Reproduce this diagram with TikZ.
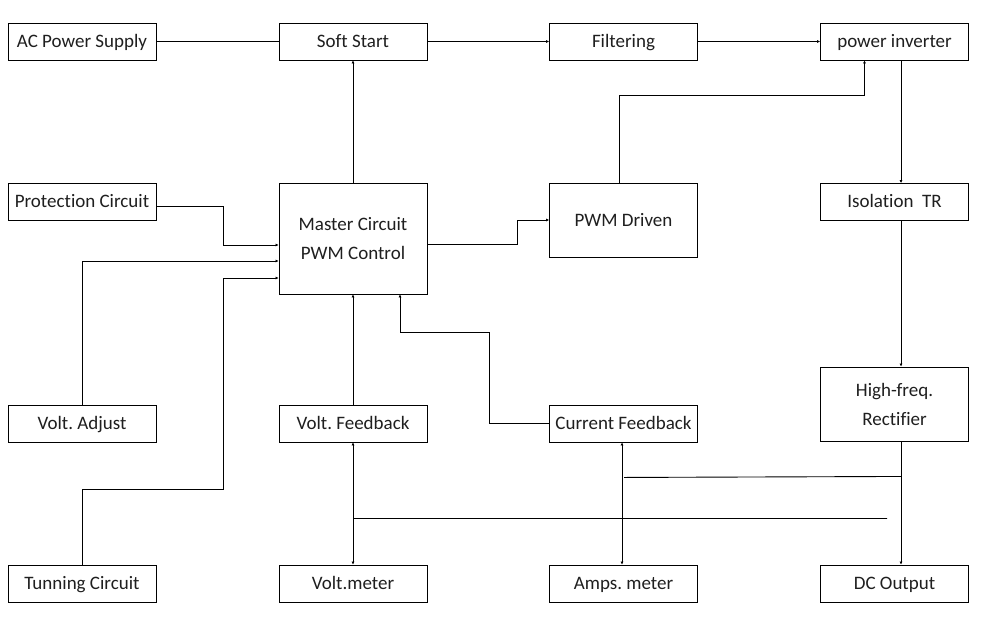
\documentclass[tikz,border=0pt]{standalone}
\usepackage{fontspec}
\setmainfont{Carlito}[Ligatures={NoCommon,NoRare,NoContextual}]
\frenchspacing
\usetikzlibrary{calc,arrows.meta}
\begin{document}
\begin{tikzpicture}[x=1pt,y=-1pt,
  box/.style={draw=black,line width=0.9pt,minimum width=148pt,minimum height=37pt,inner sep=0pt,align=center,text height=14pt,text depth=3pt,font=\fontsize{19}{29}\selectfont,text=black!88},
  tall/.style={box,minimum height=74pt,text height=,text depth=},
  big/.style={box,minimum height=111pt,text height=,text depth=},
  wire/.style={draw=black,line width=0.9pt},
  arr/.style={wire,-{Latex[length=3pt,width=3pt]}},
  arrb/.style={wire,{Latex[length=3pt,width=3pt]}-{Latex[length=3pt,width=3pt]}}]
\useasboundingbox[fill=white] (0,0) rectangle (992,635);
\node[box] (ac) at (82,41.5) {AC Power Supply};
\node[box] (soft) at (353,41.5) {Soft Start};
\node[box] (filt) at (623.5,41.5) {Filtering};
\node[box] (inv) at (894.5,41.5) {power inverter};
\node[box] (prot) at (82,202) {Protection Circuit};
\node[big] (master) at (353,238.5) {Master Circuit\\PWM Control};
\node[tall] (pwm) at (623.5,220) {PWM Driven};
\node[box] (iso) at (894.5,202) {Isolation\ \ TR};
\node[tall] (rect) at (894.5,404) {High-freq.\\Rectifier};
\node[box] (vadj) at (82,423.5) {Volt. Adjust};
\node[box] (vfb) at (353,423.5) {Volt. Feedback};
\node[box] (cfb) at (623.5,423.5) {Current Feedback};
\node[box] (tun) at (82,583.5) {Tunning Circuit};
\node[box] (vm) at (353,583.5) {Volt.meter};
\node[box] (am) at (623.5,583.5) {Amps. meter};
\node[box] (dc) at (894.5,583.5) {DC Output};
% top row
\draw[wire] (ac.east) -- (soft.west);
\draw[arr] (soft.east) -- (filt.west);
\draw[arr] (filt.east) -- (inv.west);
\draw[arr] (master.north) -- (soft.south);
% inputs to master
\draw[arr] ($(prot.east)+(0,4)$) -- ++(67,0) |- ($(master.west)+(0,6.5)$);
\draw[arr] (vadj.north) |- ($(master.west)+(0,22.5)$);
\draw[arr] (tun.north) -- ++(0,-75) -- ++(141,0) |- ($(master.west)+(0,39.5)$);
% master to pwm to inverter
\draw[arr] ($(master.east)+(0,5.5)$) -- ++(90,0) |- (pwm.west);
\draw[arr] ($(pwm.north)+(-4.5,0)$) -- ++(0,-87) -| ($(inv.south)+(-30,0)$);
% power chain
\draw[arr] ($(inv.south)+(6.5,0)$) -- ($(iso.north)+(6.5,0)$);
\draw[arr] ($(iso.south)+(6.5,0)$) -- ($(rect.north)+(6.5,0)$);
\draw[arr] ($(rect.south)+(6.5,0)$) -- ($(dc.north)+(6.5,0)$);
% feedback
\draw[arr] (vfb.north) -- (master.south);
\draw[arr] (cfb.west) -- ++(-60,0) |- ($(master.south)+(47,38)$) -- ($(master.south)+(47,0)$);
% meters
\draw[arrb] (vfb.south) -- (vm.north);
\draw[arrb] ($(cfb.south)+(-1.5,0)$) -- ($(am.north)+(-1.5,0)$);
\draw[wire] ($(rect.south)+(6.5,35)$) -- ($(cfb.south)+(0.5,35)$);
\coordinate (vend) at (887,518.5);
\draw[wire] ($(vfb.south)+(0,76)$) -- (vend);
\end{tikzpicture}
\end{document}
